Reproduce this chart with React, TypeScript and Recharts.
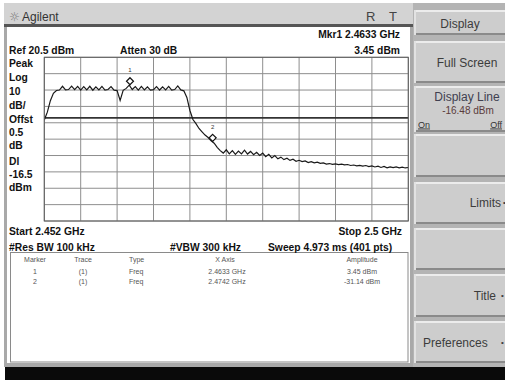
import { LineChart, Line, XAxis, YAxis, CartesianGrid, ReferenceLine, ReferenceDot } from "recharts";

// sweep setup
const START_GHZ = 2.452;
const STOP_GHZ = 2.5;
const STEP_GHZ = 0.0004;
const REF_DBM = 20.5;
const BOTTOM_DBM = -79.5;
const DISPLAY_LINE_DBM = -16.48;

// trace amplitudes (dBm), one every 0.4 MHz
const amplitudes = [
  -17.8, -13, -6, -1.5, 0.2, 0.5, 2.8, 0.6, 0.8, 2.9,
  0.7, 2.7, 0.5, 2.6, 0.6, 2.8, 0.4, 2.5, 0.6, 2.7,
  0.5, 0.8, 2.6, 0.4, 0.2, -5.8, 0.3, 1.5, 3.45, 0.8,
  2.6, 0.5, 2.7, 0.6, 2.5, 0.4, 0.7, 2.6, 0.5, 2.4,
  0.6, 2.7, 0.5, 0.8, 3.0, 0.6, 0, -4, -12, -17.5,
  -20, -23, -25, -27, -28.5, -30.5, -32, -34.5, -36.5, -38,
  -36, -38.5, -36.5, -38.8, -36.8, -38.5, -36.2, -38.6, -37, -39,
  -37.5, -39.5, -38, -40.2, -38.8, -41, -39.5, -41.5, -40.5, -42,
  -41.2, -42.5, -41.8, -43, -42.4, -43.2, -42.8, -43.8, -43.2, -44,
  -43.6, -44.3, -44, -44.7, -44.4, -44.9, -44.6, -45, -44.8, -45.2,
  -45, -45.6, -45.3, -45.8, -45.5, -46, -45.6, -46.3, -45.8, -46.5,
  -46, -46.8, -46.2, -47, -46.4, -46.9, -46.5, -47, -46.6, -47.1, -46.8,
];

const xTicks = [2.452, 2.4568, 2.4616, 2.4664, 2.4712, 2.476, 2.4808, 2.4856, 2.4904, 2.4952, 2.5];
const yTicks = [20.5, 10.5, 0.5, -9.5, -19.5, -29.5, -39.5, -49.5, -59.5, -69.5, -79.5];

const markers = [
  { id: "1", freq: 2.4633, amp: 3.45 },
  { id: "2", freq: 2.4742, amp: -31.14 },
];

const leftLabels = ["Peak", "Log", "10", "dB/", "Offst", "0.5", "dB", "Dl", "-16.5", "dBm"];
const leftLabelY = [67, 81, 94.5, 108.5, 123, 136, 149, 165, 178, 191];

const tableHeaders = ["Marker", "Trace", "Type", "X Axis", "Amplitude"];
const tableRows = [
  ["1", "(1)", "Freq", "2.4633 GHz", "3.45 dBm"],
  ["2", "(1)", "Freq", "2.4742 GHz", "-31.14 dBm"],
];

const softkeys = [
  { top: 10, bottom: 35 },
  { top: 41, bottom: 83 },
  { top: 86, bottom: 132 },
  { top: 134, bottom: 177 },
  { top: 182, bottom: 224 },
  { top: 228, bottom: 270 },
  { top: 274, bottom: 317 },
  { top: 321, bottom: 363 },
];

const traceData = amplitudes.map((a, i) => ({ freq: START_GHZ + i * STEP_GHZ, amp: a }));

const bold = { fontFamily: "'Liberation Sans', Arial, sans-serif", fontWeight: 700, fontSize: 10.3, fill: "#111" };
const keyFont = { fontFamily: "'Liberation Sans', Arial, sans-serif", fontSize: 12, fill: "#3c3c3c" };
const tblFont = { fontFamily: "'Liberation Sans', Arial, sans-serif", fontSize: 7, fill: "#555" };

function MarkerShape(props: any) {
  const { cx, cy, label } = props;
  const y = cy - 4;
  return (
    <g>
      <path d={`M${cx},${y - 3.5} L${cx + 3.5},${y} L${cx},${y + 3.5} L${cx - 3.5},${y} Z`} fill="#fff" stroke="#111" strokeWidth={1.2} />
      <line x1={cx} y1={y + 3.5} x2={cx} y2={cy} stroke="#111" strokeWidth={1} />
      <text x={cx} y={cy - 13} textAnchor="middle" style={{ fontFamily: "Arial, sans-serif", fontSize: 6, fill: "#333" }}>{label}</text>
    </g>
  );
}

export default function App() {
  return (
    <div style={{ position: "absolute", left: 0, top: 0, width: 505, height: 380, overflow: "hidden", background: "#fff" }}>
      {/* screen frame */}
      <svg width={505} height={380} style={{ position: "absolute", left: 0, top: 0 }}>
        <rect x={4} y={3} width={409} height={364} fill="#a9a9a9" />
        <rect x={4} y={3} width={409} height={22} fill="#d3d3d3" />
        <rect x={4} y={24} width={409} height={3} fill="#555" />
        <rect x={7} y={27} width={403} height={336} fill="#fff" />
        <rect x={413} y={3} width={92} height={364} fill="#b4b4b4" />
        {softkeys.map((k, i) => (
          <g key={i}>
            <rect x={414} y={k.top} width={91} height={k.bottom - k.top} fill="#cdcdcd" />
            <rect x={414} y={k.top} width={91} height={2} fill="#ececec" />
            <rect x={414} y={k.bottom - 2} width={91} height={2} fill="#8a8a8a" />
            <rect x={414} y={k.top} width={2} height={k.bottom - k.top} fill="#e2e2e2" />
          </g>
        ))}
        <rect x={5} y={367} width={500} height={13} fill="#0a0a0a" />
        <rect x={10.5} y={252.5} width={397.5} height={109.5} fill="#fff" stroke="#8a8a8a" strokeWidth={1} />
      </svg>

      <div style={{ position: "absolute", left: 0, top: 0 }}>
        <LineChart
          width={505}
          height={380}
          data={traceData}
          margin={{ top: 57.3, left: 44.3, right: 96.7, bottom: 159 }}
        >
          <CartesianGrid stroke="#8e8e8e" strokeWidth={1} />
          <XAxis dataKey="freq" type="number" domain={[START_GHZ, STOP_GHZ]} ticks={xTicks} interval={0} hide allowDataOverflow />
          <YAxis type="number" domain={[BOTTOM_DBM, REF_DBM]} ticks={yTicks} interval={0} hide allowDataOverflow />
          <ReferenceLine y={DISPLAY_LINE_DBM} stroke="#333" strokeWidth={1.6} />
          <Line dataKey="amp" stroke="#1a1a1a" strokeWidth={1.2} dot={false} isAnimationActive={false} />
          {markers.map((m) => (
            <ReferenceDot key={m.id} x={m.freq} y={m.amp} shape={(p: any) => <MarkerShape {...p} label={m.id} />} />
          ))}
        </LineChart>
      </div>

      {/* annotations */}
      <svg width={505} height={380} style={{ position: "absolute", left: 0, top: 0, pointerEvents: "none" }}>
        <rect x={44.3} y={57.3} width={364} height={163.7} fill="none" stroke="#5e5e5e" strokeWidth={1} />
        <text x={9} y={21} style={{ fontFamily: "DejaVu Sans, sans-serif", fontSize: 12, fill: "#777" }}>☼</text>
        <text x={22} y={20.5} style={{ ...keyFont, fontSize: 12, fill: "#333" }}>Agilent</text>
        <text x={366} y={21} style={{ ...keyFont, fontSize: 13, fill: "#444" }}>R</text>
        <text x={389} y={21} style={{ ...keyFont, fontSize: 13, fill: "#444" }}>T</text>

        <text x={400} y={38} textAnchor="end" style={bold}>Mkr1  2.4633 GHz</text>
        <text x={400} y={54} textAnchor="end" style={bold}>3.45 dBm</text>
        <text x={9} y={54} style={bold}>Ref 20.5 dBm</text>
        <text x={120} y={54} style={bold}>Atten 30 dB</text>
        {leftLabels.map((l, i) => (
          <text key={l + i} x={9} y={leftLabelY[i]} style={bold}>{l}</text>
        ))}
        <text x={9} y={235} style={bold}>Start 2.452 GHz</text>
        <text x={402} y={235} textAnchor="end" style={bold}>Stop 2.5 GHz</text>
        <text x={9} y={250.5} style={bold}>#Res BW 100 kHz</text>
        <text x={170} y={250.5} style={bold}>#VBW 300 kHz</text>
        <text x={268} y={250.5} style={bold}>Sweep 4.973 ms (401 pts)</text>

        {tableHeaders.map((h, i) => (
          <text key={h} x={[35, 83, 129, 225, 362][i]} y={262} textAnchor={i === 2 ? "start" : "middle"} style={tblFont}>{h}</text>
        ))}
        {tableRows.map((r, ri) =>
          r.map((c, ci) => (
            <text key={ri + "-" + ci} x={[35, 83, 129, 227, 362][ci]} y={[273.5, 284][ri]} textAnchor={ci === 2 ? "start" : "middle"} style={tblFont}>{c}</text>
          ))
        )}

        <text x={460} y={28} textAnchor="middle" style={keyFont}>Display</text>
        <text x={467} y={67} textAnchor="middle" style={keyFont}>Full Screen</text>
        <text x={467} y={101} textAnchor="middle" style={{ ...keyFont, fill: "#404050" }}>Display Line</text>
        <text x={468} y={113.5} textAnchor="middle" style={{ ...keyFont, fontSize: 10, fill: "#5a3c3c" }}>-16.48 dBm</text>
        <text x={418} y={127.5} textDecoration="underline" style={{ ...keyFont, fontSize: 9, fill: "#333" }}>On</text>
        <text x={502} y={127.5} textAnchor="end" textDecoration="underline" style={{ ...keyFont, fontSize: 9, fill: "#333" }}>Off</text>
        <text x={501} y={207} textAnchor="end" style={keyFont}>Limits</text>
        <text x={503} y={205} style={{ ...keyFont, fontSize: 8 }}>•</text>
        <text x={496} y={300} textAnchor="end" style={keyFont}>Title</text>
        <text x={501} y={298} style={{ ...keyFont, fontSize: 8 }}>•</text>
        <text x={423} y={347} style={keyFont}>Preferences</text>
        <text x={501} y={345} style={{ ...keyFont, fontSize: 8 }}>•</text>
      </svg>
    </div>
  );
}
